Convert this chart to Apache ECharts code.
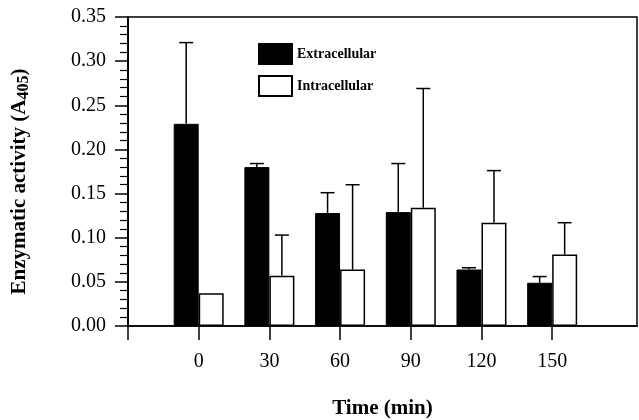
<!DOCTYPE html>
<html>
<head>
<meta charset="utf-8">
<script src="https://cdn.jsdelivr.net/npm/echarts@6/dist/echarts.min.js"></script>
<style>
  html, body { margin: 0; padding: 0; background: #fff; }
  #chart { width: 639px; height: 420px; }
</style>
</head>
<body>
<div id="chart"></div>
<script>
/* ===================== data ===================== */
var times = [0, 30, 60, 90, 120, 150];
var extraVals = [0.229, 0.180, 0.128, 0.129, 0.064, 0.049];
var extraErr = [0.092, 0.004, 0.023, 0.055, 0.002, 0.007];
var intraVals = [0.037, 0.057, 0.064, 0.134, 0.117, 0.081];
var intraErr = [0, 0.046, 0.096, 0.135, 0.059, 0.036];
var xTicks = [-30, 0, 30, 60, 90, 120, 150];
var xLabels = [0, 30, 60, 90, 120, 150];
/* ===================== end ===================== */

var FONT = '"Liberation Serif", "Times New Roman", serif';
var BAR_W = 25;

function pairs(xs, ys) {
    return xs.map(function (x, i) { return [x, ys[i]]; });
}

// error bar data: [x, value, err, side]  side -1 = left bar, 1 = right bar
function errData(vals, errs, side) {
    var out = [];
    times.forEach(function (t, i) {
        if (errs[i] > 0) out.push([t, vals[i], errs[i], side]);
    });
    return out;
}

function renderErr(params, api) {
    var x = api.value(0), y = api.value(1), e = api.value(2), side = api.value(3);
    var base = api.coord([x, y]);
    var top = api.coord([x, y + e]);
    var cx = base[0] + side * BAR_W / 2;
    var style = { stroke: '#000', lineWidth: 1.5 };
    return {
        type: 'group',
        children: [
            { type: 'line', shape: { x1: cx, y1: base[1], x2: cx, y2: top[1] }, style: style },
            { type: 'line', shape: { x1: cx - 7, y1: top[1], x2: cx + 7, y2: top[1] }, style: style }
        ]
    };
}

var chart = echarts.init(document.getElementById('chart'));

chart.setOption({
    animation: false,
    grid: {
        left: 128, right: 2, top: 17, bottom: 94,
        containLabel: false,
        outerBoundsMode: 'none',
        show: true, borderColor: '#000', borderWidth: 1.5
    },
    legend: {
        orient: 'vertical',
        left: 253, top: 38,
        itemWidth: 33, itemHeight: 20, itemGap: 10,
        icon: 'rect',
        textStyle: { fontFamily: FONT, fontWeight: 'bold', fontSize: 14, color: '#000' },
        data: ['Extracellular', 'Intracellular']
    },
    xAxis: {
        type: 'value',
        min: -30, max: 186, interval: 30,
        name: 'Time (min)',
        nameLocation: 'middle',
        nameGap: 72,
        nameTextStyle: { fontFamily: FONT, fontWeight: 'bold', fontSize: 21, color: '#000' },
        axisLine: { show: true, onZero: false, lineStyle: { color: '#000', width: 1.5 } },
        axisTick: { show: true, inside: false, length: 14, customValues: xTicks, lineStyle: { color: '#000', width: 1.5 } },
        axisLabel: { customValues: xLabels, margin: 26, fontFamily: FONT, fontSize: 20, color: '#000' },
        splitLine: { show: false }
    },
    yAxis: {
        type: 'value',
        min: 0, max: 0.35, interval: 0.05,
        name: '{a|Enzymatic activity (A}{s|405}{a|)}',
        nameLocation: 'middle',
        nameGap: 96,
        nameTextStyle: {
            padding: [0, 20, 0, 0],
            rich: {
                a: { fontFamily: FONT, fontWeight: 'bold', fontSize: 21, color: '#000' },
                s: { fontFamily: FONT, fontWeight: 'bold', fontSize: 16, color: '#000', verticalAlign: 'bottom', padding: [9, 0, 0, 0] }
            }
        },
        axisLine: { show: true, onZero: false, lineStyle: { color: '#000', width: 2 } },
        axisTick: { show: true, inside: false, length: 13, lineStyle: { color: '#000', width: 1.5 } },
        minorTick: { show: true, splitNumber: 5, length: 8, lineStyle: { color: '#000', width: 1.2 } },
        axisLabel: {
            margin: 22, fontFamily: FONT, fontSize: 20, color: '#000',
            formatter: function (v) { return v.toFixed(2); }
        },
        splitLine: { show: false }
    },
    series: [
        {
            name: 'Extracellular',
            type: 'bar',
            barWidth: BAR_W,
            barGap: '0%',
            itemStyle: { color: '#000', borderColor: '#000', borderWidth: 1 },
            data: pairs(times, extraVals)
        },
        {
            name: 'Intracellular',
            type: 'bar',
            barWidth: BAR_W,
            barGap: '0%',
            itemStyle: { color: '#fff', borderColor: '#000', borderWidth: 1.5 },
            data: pairs(times, intraVals)
        },
        {
            type: 'custom',
            renderItem: renderErr,
            z: 5,
            data: errData(extraVals, extraErr, -1)
        },
        {
            type: 'custom',
            renderItem: renderErr,
            z: 5,
            data: errData(intraVals, intraErr, 1)
        }
    ]
});
</script>
</body>
</html>
